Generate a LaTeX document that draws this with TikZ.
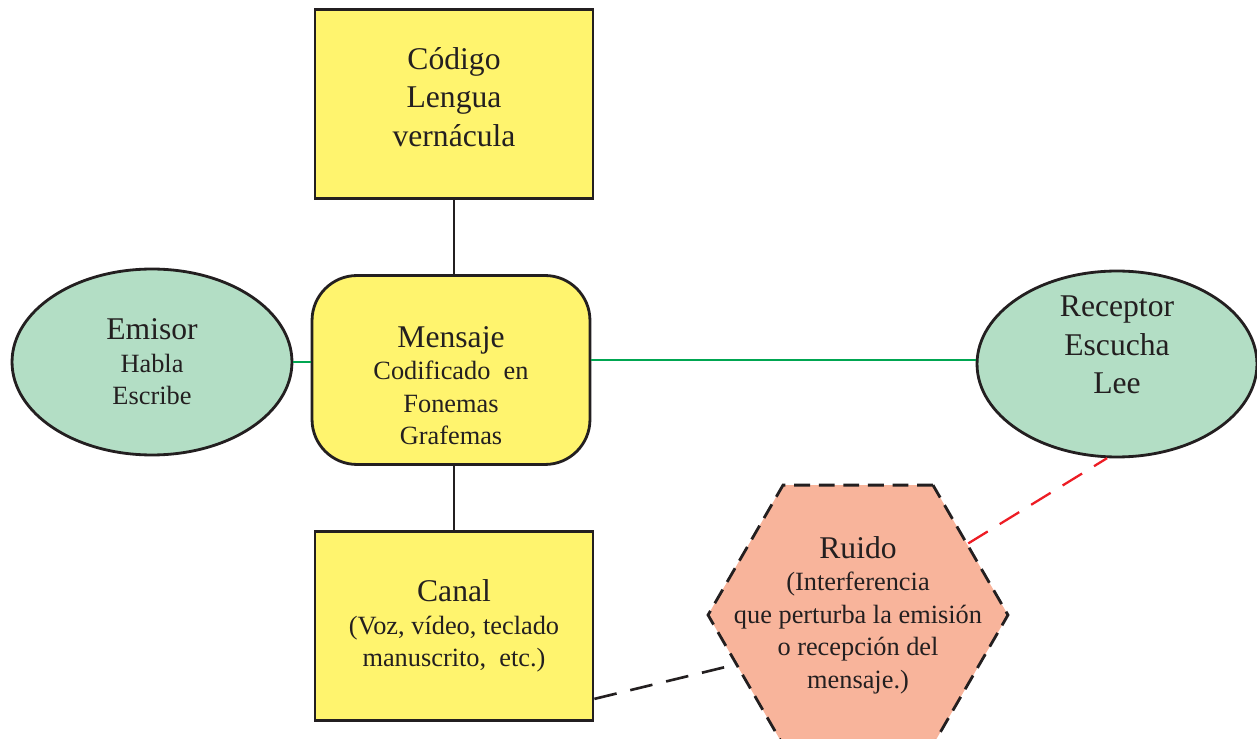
\documentclass[tikz,border=0pt]{standalone}
\usepackage{fontspec}
\setmainfont{Liberation Serif}
\usetikzlibrary{shapes.geometric}
\definecolor{amarillo}{RGB}{255,244,110}
\definecolor{verde}{RGB}{179,222,197}
\definecolor{salmon}{RGB}{248,180,155}
\definecolor{linea}{RGB}{35,31,32}
\definecolor{verdelinea}{RGB}{0,166,81}
\definecolor{rojo}{RGB}{237,28,36}
\newcommand{\grande}{\fontsize{18}{22}\selectfont}
\newcommand{\chico}{\fontsize{15}{18.5}\selectfont}
\tikzset{
  txt/.style = {align=center, font=\chico, text=linea},
  caja/.style = {txt, draw=linea, line width=1.6pt},
  box/.style = {caja, rectangle, fill=amarillo, minimum width=5.56cm, minimum height=3.78cm},
  msg/.style = {caja, rectangle, rounded corners=0.9cm, fill=amarillo, minimum width=5.56cm, minimum height=3.78cm},
  oval/.style = {caja, ellipse, fill=verde, minimum width=5.6cm, minimum height=3.72cm},
  hexa/.style = {caja, regular polygon, regular polygon sides=6, fill=salmon, minimum size=6cm, dash pattern=on 9pt off 5pt},
  conn/.style = {draw=linea, line width=1.5pt},
  verdeline/.style = {draw=verdelinea, line width=1.3pt},
  trazo/.style = {dash pattern=on 13pt off 8pt},
}

\begin{document}
\begin{tikzpicture}[x=0.02cm, y=-0.02cm]
\useasboundingbox (0,0) rectangle (1257,739);
\node [box, font=\grande] (codigo) at (454,104) {Código\\Lengua\\vernácula\\[-14pt]\mbox{}};
\node [msg] (mensaje) at (451,370) {\mbox{}\\[11pt]{\grande Mensaje}\\Codificado\ \ en\\Fonemas\\Grafemas};
\node [box] (canal) at (454,626) {{\grande Canal}\\(Voz, vídeo, teclado\\manuscrito,\ \ etc.)};
\node [oval] (emisor) at (152,362) {{\grande Emisor}\\Habla\\Escribe};
\node [oval, label={[txt, font=\grande, yshift=0.38cm]center:Receptor\\Escucha\\Lee}] (receptor) at (1117,364) {};
\node [hexa, label={[txt]center:{\grande Ruido}\\(Interferencia\\que perturba la emisión\\o recepción del\\mensaje.)}] (ruido) at (858,615) {};

\draw [conn] (codigo.south) -- (codigo.south |- mensaje.north);
\draw [conn] (canal.north) -- (canal.north |- mensaje.south);
\draw [verdeline] (emisor.east) -- (emisor.east -| mensaje.west);
\draw [verdeline] ([yshift=0.08cm]receptor.west) -- ([yshift=0.08cm]receptor.west -| mensaje.east);
\draw [conn, trazo] ([yshift=0.46cm]canal.south east) -- (ruido.202);
\draw [rojo, line width=1.3pt, trazo] (ruido.33) -- (receptor.264);
\end{tikzpicture}
\end{document}
